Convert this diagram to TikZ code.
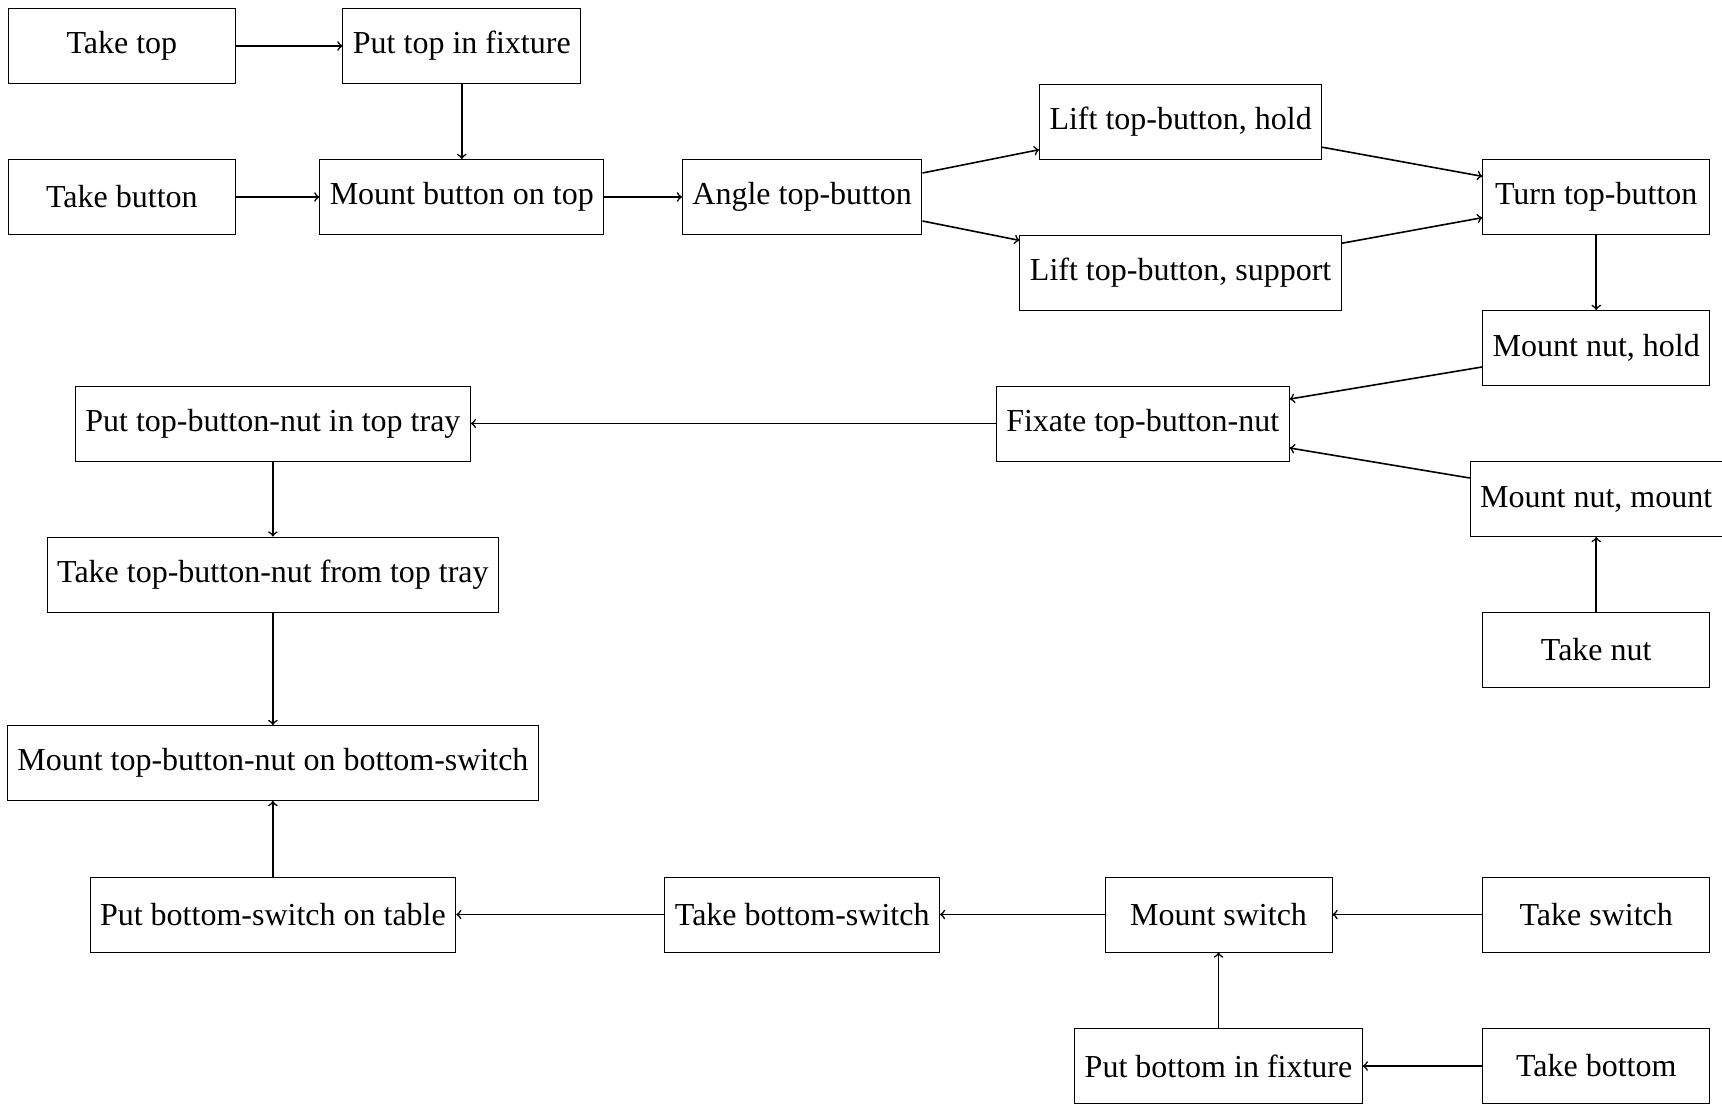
\documentclass[tikz,border=0pt]{standalone}
\usepackage{fontspec}
\setmainfont{Liberation Serif}
\begin{document}
\begin{tikzpicture}[x=0.5pt,y=-0.5pt,
  box/.style={draw,line width=0.5pt,minimum width=113.5pt,minimum height=37.5pt,inner xsep=5pt,font=\fontsize{16}{19}\selectfont},
  arr/.style={->,line width=0.8pt}]
\useasboundingbox (0,0) rectangle (1722,1104);
% columns
\def\ca{121.9}\def\cb{272.9}\def\cc{461.8}\def\cd{802.2}\def\ce{1142.7}\def\cf{1180.6}\def\cg{1218.5}\def\ch{1596.2}
\node[box] (taketop) at (\ca,46) {Take top};
\node[box] (puttop) at (\cc,46) {Put top in fixture};
\node[box] (takebutton) at (\ca,197) {Take button};
\node[box] (mountbutton) at (\cc,197) {Mount button on top};
\node[box] (angle) at (\cd,197) {Angle top-button};
\node[box] (lifthold) at (\cf,121.5) {Lift top-button, hold};
\node[box] (liftsupport) at (\cf,272.5) {Lift top-button, support};
\node[box] (turn) at (\ch,197) {Turn top-button};
\node[box] (nuthold) at (\ch,348) {Mount nut, hold};
\node[box] (fixate) at (\ce,423.5) {Fixate top-button-nut};
\node[box] (nutmount) at (\ch,499) {Mount nut, mount};
\node[box] (takenut) at (\ch,650) {Take nut};
\node[box] (puttray) at (\cb,423.5) {Put top-button-nut in top tray};
\node[box] (taketray) at (\cb,574.5) {Take top-button-nut from top tray};
\node[box] (mountnutbs) at (\cb,763) {Mount top-button-nut on bottom-switch};
\node[box] (puttable) at (\cb,914.5) {Put bottom-switch on table};
\node[box] (takebs) at (\cd,914.5) {Take bottom-switch};
\node[box] (mountswitch) at (\cg,914.5) {Mount switch};
\node[box] (takeswitch) at (\ch,914.5) {Take switch};
\node[box] (putbottom) at (\cg,1066) {Put bottom in fixture};
\node[box] (takebottom) at (\ch,1066) {Take bottom};
% edges
\draw[arr] (taketop) -- (puttop);
\draw[arr] (puttop) -- (mountbutton);
\draw[arr] (takebutton) -- (mountbutton);
\draw[arr] (mountbutton) -- (angle);
\draw[arr] (angle) -- (lifthold);
\draw[arr] (angle) -- (liftsupport);
\draw[arr] (lifthold) -- (turn);
\draw[arr] (liftsupport) -- (turn);
\draw[arr] (turn) -- (nuthold);
\draw[arr] (nuthold) -- (fixate);
\draw[arr] (nutmount) -- (fixate);
\draw[arr] (takenut) -- (nutmount);
\draw[arr] (fixate) -- (puttray);
\draw[arr] (puttray) -- (taketray);
\draw[arr] (taketray) -- (mountnutbs);
\draw[arr] (puttable) -- (mountnutbs);
\draw[arr] (takebs) -- (puttable);
\draw[arr] (mountswitch) -- (takebs);
\draw[arr] (takeswitch) -- (mountswitch);
\draw[arr] (putbottom) -- (mountswitch);
\draw[arr] (takebottom) -- (putbottom);
\end{tikzpicture}
\end{document}
